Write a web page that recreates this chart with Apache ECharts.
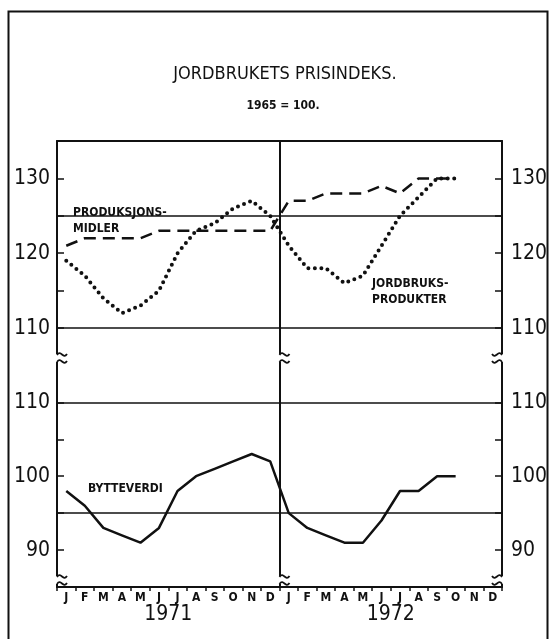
<!DOCTYPE html>
<html>
<head>
<meta charset="utf-8">
<script src="https://cdn.jsdelivr.net/npm/echarts@6/dist/echarts.min.js"></script>
<style>
  html, body { margin: 0; padding: 0; background: #fff; }
  #chart { width: 549px; height: 639px; }
</style>
</head>
<body>
<div id="chart"></div>
<script>
// month letters and years along the bottom
var months = ['J', 'F', 'M', 'A', 'M', 'J', 'J', 'A', 'S', 'O', 'N', 'D'];
var years = ['1971', '1972'];

// top panel
var jordbruksprodukter = [119, 117, 114, 112, 113, 115, 120, 123, 124, 126, 127, 125,
                          121, 118, 118, 116, 117, 121, 125, 127.5, 130, 130, null, null];
var produksjonsmidler = [121, 122, 122, 122, 122, 123, 123, 123, 123, 123, 123, 123,
                         127, 127, 128, 128, 128, 129, 128, 130, 130, 130, null, null];
// bottom panel
var bytteverdi = [98, 96, 93, 92, 91, 93, 98, 100, 101, 102, 103, 102,
                  95, 93, 92, 91, 91, 94, 98, 98, 100, 100, null, null];

var topTicks = [110, 115, 120, 125, 130];
var topLabels = [110, 120, 130];
var bottomTicks = [90, 95, 100, 105, 110];
var bottomLabels = [90, 100, 110];
var topRefLines = [125, 110];
var bottomRefLines = [110, 95];

var categories = [];
years.forEach(function (y) {
    months.forEach(function (m, i) { categories.push(y + '-' + (i + 1)); });
});

var FONT = '"Liberation Sans Narrow", "DejaVu Sans Condensed", "Liberation Sans", sans-serif';
var INK = '#111';

var chart = echarts.init(document.getElementById('chart'), null, { renderer: 'canvas' });

function yAxisFor(grid, min, max, ticks, labels, right) {
    return {
        type: 'value', gridIndex: grid, min: min, max: max,
        position: right ? 'right' : 'left',
        axisLine: { show: true, lineStyle: { color: INK, width: 2 } },
        axisTick: { show: true, inside: true, length: 7, customValues: ticks, lineStyle: { color: INK, width: 1.5 } },
        axisLabel: { show: true, customValues: labels, margin: right ? 9 : 7, color: INK, fontSize: 21, fontFamily: FONT },
        splitLine: { show: false }
    };
}

function refLines(vals) {
    return {
        silent: true, symbol: 'none', label: { show: false },
        lineStyle: { color: INK, width: 1.5, type: 'solid' },
        data: vals.map(function (v) { return { yAxis: v }; })
    };
}

// vertical divider between the two years
var midSplit = {
    show: true,
    interval: function (index) { return index % 12 === 0; },
    lineStyle: { color: INK, width: 2 }
};

option = {
    backgroundColor: '#fff',
    animation: false,
    title: [{
        text: 'JORDBRUKETS PRISINDEKS.', left: 280, top: 60, textAlign: 'center',
        textStyle: { fontFamily: FONT, fontSize: 18, fontWeight: 'normal', color: INK }
    }, {
        text: '1965 = 100.', left: 278, top: 95, textAlign: 'center',
        textStyle: { fontFamily: FONT, fontSize: 12, fontWeight: 'bold', color: INK }
    }],
    grid: [
        { left: 57, right: 47, top: 141, height: 217, containLabel: false, outerBoundsMode: 'none' },
        { left: 57, right: 47, top: 358, height: 229, containLabel: false, outerBoundsMode: 'none' }
    ],
    xAxis: [{
        type: 'category', gridIndex: 0, data: categories, position: 'top',
        axisLine: { show: true, lineStyle: { color: INK, width: 2 } },
        axisTick: { show: false }, axisLabel: { show: false },
        splitLine: midSplit
    }, {
        type: 'category', gridIndex: 1, data: categories, position: 'bottom',
        axisLine: { show: true, lineStyle: { color: INK, width: 2 } },
        axisTick: { show: true, length: 4, lineStyle: { color: INK, width: 1.5 } },
        axisLabel: {
            show: true, margin: 5, color: INK, fontSize: 12, fontWeight: 'bold', fontFamily: FONT, interval: 0,
            formatter: function (v, i) { return months[i % 12]; }
        },
        splitLine: midSplit
    }, {
        type: 'category', gridIndex: 1, data: years, position: 'bottom',
        axisLine: { show: false }, axisTick: { show: false }, splitLine: { show: false },
        axisLabel: { margin: 17, color: INK, fontSize: 21, fontFamily: FONT }
    }],
    yAxis: [
        yAxisFor(0, 106, 135, topTicks, topLabels, false),
        yAxisFor(0, 106, 135, topTicks, topLabels, true),
        yAxisFor(1, 85, 116, bottomTicks, bottomLabels, false),
        yAxisFor(1, 85, 116, bottomTicks, bottomLabels, true)
    ],
    series: [{
        name: 'Produksjonsmidler', type: 'line', xAxisIndex: 0, yAxisIndex: 0,
        data: produksjonsmidler, symbol: 'none',
        lineStyle: { color: INK, width: 2.5, type: [12, 7] },
        markLine: refLines(topRefLines)
    }, {
        name: 'Jordbruksprodukter', type: 'line', xAxisIndex: 0, yAxisIndex: 0,
        data: jordbruksprodukter, symbol: 'none',
        lineStyle: { color: INK, width: 4, type: [0, 6.5], cap: 'round' }
    }, {
        name: 'Bytteverdi', type: 'line', xAxisIndex: 1, yAxisIndex: 2,
        data: bytteverdi, symbol: 'none',
        lineStyle: { color: INK, width: 2.5 },
        markLine: refLines(bottomRefLines)
    }]
};

chart.setOption(option);

// series names, axis breaks and the frame
var labelStyle = { fontFamily: FONT, fontSize: 12, fontWeight: 'bold', fill: INK, lineHeight: 16 };
function squiggle(x, y, dir) {
    var wave = { fill: 'none', stroke: INK, lineWidth: 1.8 };
    return {
        type: 'group', x: x, y: y, silent: true, z: 100,
        children: [
            { type: 'rect', z: 100, shape: { x: -3, y: -4, width: 6, height: 8 }, style: { fill: '#fff' } },
            { type: 'bezierCurve', z: 101, scaleX: dir,
              shape: { x1: 0, y1: -3, x2: 10, y2: -4, cpx1: 4, cpy1: -9, cpx2: 6, cpy2: 2 }, style: wave },
            { type: 'bezierCurve', z: 101, scaleX: dir,
              shape: { x1: 0, y1: 4, x2: 10, y2: 3, cpx1: 4, cpy1: -2, cpx2: 6, cpy2: 9 }, style: wave }
        ]
    };
}
var g = [
    { type: 'rect', silent: true, z: 100, shape: { x: 8.5, y: 11.5, width: 539, height: 640 }, style: { fill: 'none', stroke: INK, lineWidth: 2 } },
    { type: 'text', z: 100, left: 73, top: 205, style: Object.assign({ text: 'PRODUKSJONS-\nMIDLER' }, labelStyle) },
    { type: 'text', z: 100, left: 372, top: 276, style: Object.assign({ text: 'JORDBRUKS-\nPRODUKTER' }, labelStyle) },
    { type: 'text', z: 100, left: 88, top: 481, style: Object.assign({ text: 'BYTTEVERDI' }, labelStyle) }
];
var x0 = chart.convertToPixel({ xAxisIndex: 1 }, 0);
var x1 = chart.convertToPixel({ xAxisIndex: 1 }, 1);
var band = x1 - x0;
[0, 12, 24].forEach(function (i) {
    var x = x0 - band / 2 + i * band;
    var dir = i === 24 ? -1 : 1;
    g.push(squiggle(x, 358, dir));
    g.push(squiggle(x, 580, dir));
});
chart.setOption({ graphic: g });
</script>
</body>
</html>
